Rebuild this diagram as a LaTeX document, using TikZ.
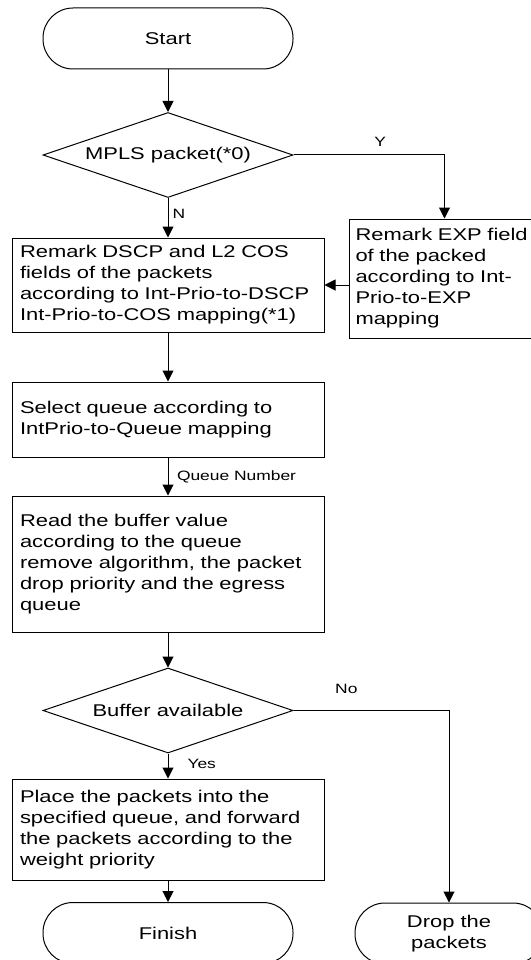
\documentclass[tikz,border=0pt]{standalone}
\usepackage{fontspec}
\setmainfont{Liberation Sans}[FakeStretch=1.29]
\usetikzlibrary{shapes,arrows.meta}

\begin{document}
\begin{tikzpicture}[x=1pt,y=-1pt,line width=1pt,font=\fontsize{17}{21}\selectfont]
\tikzstyle{term}=[draw,rounded corners=30pt,minimum width=250pt,minimum height=61pt,align=center]
\tikzstyle{decision}=[draw,diamond,aspect=2.94,minimum width=250pt,minimum height=85pt,inner sep=0pt]
\tikzstyle{process}=[draw,text width=296pt,inner xsep=8pt,align=left]
\tikzstyle{arr}=[-{Triangle[length=11pt,width=11pt]}]
\tikzstyle{lbl}=[font=\fontsize{13.5}{16}\selectfont,inner sep=2pt]
\useasboundingbox (0,0) rectangle (530,960);

\node[term] (start) at (168,38.5) {Start};
\node[decision] (mpls) at (168,155) {MPLS packet(*0)};
\node[process,minimum height=94pt] (remark) at (168,285) {Remark DSCP and L2 COS\\fields of the packets\\according to Int-Prio-to-DSCP\\Int-Prio-to-COS mapping(*1)};
\node[process,text width=178pt,inner xsep=6.5pt,minimum height=119pt] (exp) at (444.5,278.5) {Remark EXP field\\of the packed\\according to Int-\\Prio-to-EXP\\mapping};
\node[process,minimum height=75pt] (select) at (168,419.5) {Select queue according to\\IntPrio-to-Queue mapping};
\node[process,minimum height=136pt] (read) at (168,564) {Read the buffer value\\according to the queue\\remove algorithm, the packet\\drop priority and the egress\\queue};
\node[decision] (buffer) at (168,710.5) {Buffer available};
\node[process,minimum height=101pt] (place) at (168,829.5) {Place the packets into the\\specified queue, and forward\\the packets according to the\\weight priority};
\node[term] (finish) at (168,933) {Finish};
\node[term,minimum width=188pt] (drop) at (449,933.5) {Drop the\\packets};

\draw[arr] (start) -- (mpls);
\draw[arr] (mpls) -- node[lbl,right=2pt,pos=0.4]{N} (remark);
\draw[arr] (mpls.east) -| node[lbl,above=6pt,pos=0.287]{Y} (exp);
\draw[arr] (exp.west |- remark) -- (remark);
\draw[arr] (remark) -- (select);
\draw[arr] (select) -- node[lbl,right=6.5pt,midway]{Queue Number} (read);
\draw[arr] (read) -- (buffer);
\draw[arr] (buffer) -- node[lbl,right=17pt,pos=0.4]{Yes} (place);
\draw[arr] (buffer.east) -| node[lbl,above=14pt,pos=0.17]{No} (drop);
\draw[arr] (place) -- (finish);
\end{tikzpicture}
\end{document}
